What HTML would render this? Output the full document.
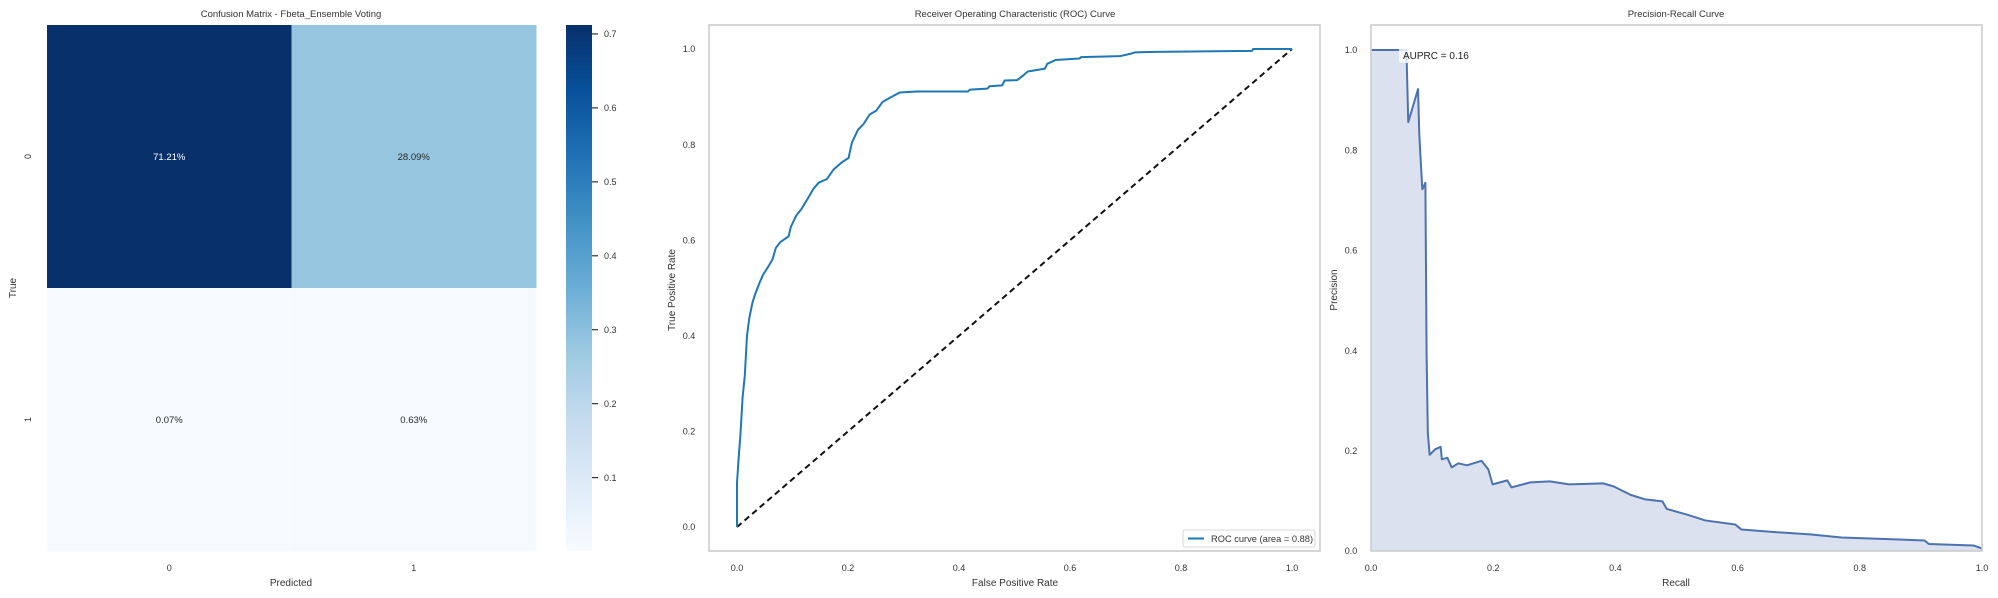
<!DOCTYPE html>
<html><head><meta charset="utf-8"><style>
html,body{margin:0;padding:0;background:#fff;}
svg{display:block;font-family:"Liberation Sans",Arial,sans-serif;}
</style></head><body>
<svg id="fig" width="1998" height="598" viewBox="0 0 1998 598">
<defs>
<linearGradient id="bluesGrad" x1="0" y1="1" x2="0" y2="0">
<stop offset="0" stop-color="#f7fbff"/><stop offset="0.125" stop-color="#deebf7"/><stop offset="0.25" stop-color="#c6dbef"/><stop offset="0.375" stop-color="#9ecae1"/><stop offset="0.5" stop-color="#6baed6"/><stop offset="0.625" stop-color="#4292c6"/><stop offset="0.75" stop-color="#2171b5"/><stop offset="0.875" stop-color="#08519c"/><stop offset="1" stop-color="#08306b"/>
</linearGradient>
</defs>
<g id="cm"></g>
<g id="roc"></g>
<g id="pr"></g>
</svg>
<script>
// ---- Confusion matrix data ----
const cmRowLabels = ["0","1"];
const cmColLabels = ["0","1"];
const cmValues = [[0.7121,0.2809],[0.0007,0.0063]];
const cmText = [["71.21%","28.09%"],["0.07%","0.63%"]];
const cbTicks = [0.1,0.2,0.3,0.4,0.5,0.6,0.7];
// ---- ROC data ----
const rocFpr = [0,0,0.003,0.006,0.01,0.014,0.018,0.022,0.028,0.033,0.041,0.047,0.056,0.064,0.07,0.078,0.093,0.097,0.107,0.116,0.128,0.138,0.147,0.162,0.174,0.19,0.201,0.207,0.218,0.228,0.239,0.251,0.262,0.274,0.293,0.324,0.416,0.42,0.451,0.455,0.478,0.482,0.505,0.516,0.524,0.555,0.559,0.574,0.617,0.62,0.69,0.709,0.717,0.755,0.928,0.93,1];
const rocTpr = [0,0.093,0.145,0.19,0.27,0.316,0.40,0.436,0.47,0.488,0.512,0.528,0.544,0.56,0.584,0.596,0.608,0.628,0.652,0.665,0.688,0.708,0.72,0.728,0.748,0.764,0.772,0.804,0.831,0.843,0.863,0.871,0.889,0.897,0.909,0.911,0.911,0.915,0.917,0.922,0.924,0.934,0.935,0.945,0.953,0.959,0.969,0.977,0.98,0.983,0.985,0.99,0.993,0.994,0.996,1.0,1];
const rocTicks = [0,0.2,0.4,0.6,0.8,1.0];
const rocLegend = "ROC curve (area = 0.88)";
// ---- PR data ----
const prRecall = [0,0.058,0.059,0.061,0.077,0.079,0.081,0.084,0.089,0.091,0.093,0.096,0.105,0.114,0.116,0.125,0.132,0.143,0.157,0.181,0.192,0.199,0.223,0.23,0.261,0.293,0.324,0.38,0.397,0.425,0.449,0.477,0.484,0.519,0.547,0.596,0.606,0.659,0.721,0.77,0.906,0.913,0.986,1];
const prPrecision = [1,1,0.951,0.856,0.922,0.833,0.787,0.722,0.735,0.392,0.236,0.192,0.203,0.208,0.183,0.186,0.167,0.175,0.171,0.18,0.163,0.133,0.141,0.127,0.137,0.139,0.133,0.135,0.129,0.112,0.103,0.099,0.084,0.072,0.061,0.053,0.043,0.038,0.033,0.027,0.021,0.014,0.011,0.005];
const prTicks = [0,0.2,0.4,0.6,0.8,1.0];
const auprcLabel = "AUPRC = 0.16";

const NS="http://www.w3.org/2000/svg";
function mk(parent,tag,attrs,text){const e=document.createElementNS(NS,tag);for(const k in attrs)e.setAttribute(k,attrs[k]);if(text!==undefined)e.textContent=text;parent.appendChild(e);return e;}
const TXT="#333";

// Blues colormap
const blues=["#f7fbff","#deebf7","#c6dbef","#9ecae1","#6baed6","#4292c6","#2171b5","#08519c","#08306b"];
function hex(h){return [parseInt(h.substr(1,2),16),parseInt(h.substr(3,2),16),parseInt(h.substr(5,2),16)];}
function bluesColor(t){t=Math.max(0,Math.min(1,t));const p=t*8;const i=Math.min(7,Math.floor(p));const f=p-i;const a=hex(blues[i]),b=hex(blues[i+1]);return "rgb("+a.map((v,k)=>Math.round(v+(b[k]-v)*f)).join(",")+")";}

// ===== Confusion matrix =====
(function(){
 const g=document.getElementById("cm");
 const L=47,R=536,T=25,B=551;
 const vmin=Math.min(...cmValues.flat()),vmax=Math.max(...cmValues.flat());
 const cw=(R-L)/cmColLabels.length, ch=(B-T)/cmRowLabels.length;
 cmValues.forEach((row,i)=>row.forEach((v,j)=>{
  const t=(v-vmin)/(vmax-vmin);
  const r=mk(g,"rect",{x:L+j*cw,y:T+i*ch,width:cw+0.5,height:ch+0.5,fill:bluesColor(t)});
  
  
  const tx=mk(g,"text",{x:L+(j+0.5)*cw,y:T+(i+0.5)*ch+3.5,"text-anchor":"middle","font-size":"9.5",fill:t>0.5?"#fff":"#262626"},cmText[i][j]);
  
  
 }));
 cmColLabels.forEach((c,j)=>{const e=mk(g,"text",{x:L+(j+0.5)*cw,y:571,"text-anchor":"middle","font-size":"9",fill:TXT},c);
  
  });
 cmRowLabels.forEach((c,i)=>{const y=T+(i+0.5)*ch;const e=mk(g,"text",{x:0,y:0,transform:"translate(31,"+y+") rotate(-90)","text-anchor":"middle","font-size":"9",fill:TXT},c);
  
  });
 let e=mk(g,"text",{x:291,y:17,"text-anchor":"middle","font-size":"9.5",fill:TXT},"Confusion Matrix - Fbeta_Ensemble Voting");
 
 
 e=mk(g,"text",{x:291,y:586,"text-anchor":"middle","font-size":"10",fill:TXT},"Predicted");
 
 
 e=mk(g,"text",{x:0,y:0,transform:"translate(16,288) rotate(-90)","text-anchor":"middle","font-size":"10",fill:TXT},"True");
 
 
 // colorbar
 const cL=566,cR=592;
 e=mk(g,"rect",{x:cL,y:T,width:cR-cL,height:B-T,fill:"url(#bluesGrad)"});
 
 
 const cy=v=>B-(v-vmin)/(vmax-vmin)*(B-T);
 cbTicks.forEach(v=>{
  mk(g,"line",{x1:cR,x2:cR+6,y1:cy(v),y2:cy(v),stroke:"#333","stroke-width":"1.2"});
  const t=mk(g,"text",{x:cR+12,y:cy(v)+3.2,"font-size":"9",fill:TXT},v.toFixed(1));
  
  
 });
})();

// ===== ROC =====
(function(){
 const g=document.getElementById("roc");
 const X0=737,X1=1292,Y0=527,Y1=49;
 const sx=v=>X0+v*(X1-X0), sy=v=>Y0-v*(Y0-Y1);
 let e=mk(g,"rect",{x:709,y:25,width:611,height:526,fill:"#fff",stroke:"#cccccc","stroke-width":"1.6"});
 
 
 e=mk(g,"line",{x1:sx(0),y1:sy(0),x2:sx(1),y2:sy(1),stroke:"#111","stroke-width":"2","stroke-dasharray":"6,4"});
 
 
 e=mk(g,"polyline",{points:rocFpr.map((x,i)=>sx(x)+","+sy(rocTpr[i])).join(" "),fill:"none",stroke:"#1f77b4","stroke-width":"2","stroke-linejoin":"round"});
 
 
 rocTicks.forEach(v=>{
  let t=mk(g,"text",{x:sx(v),y:571,"text-anchor":"middle","font-size":"9",fill:TXT},v.toFixed(1));
  
  
  t=mk(g,"text",{x:689,y:sy(v)+3.2,"text-anchor":"middle","font-size":"9",fill:TXT},v.toFixed(1));
  
  
 });
 e=mk(g,"text",{x:1015,y:17,"text-anchor":"middle","font-size":"9.5",fill:TXT},"Receiver Operating Characteristic (ROC) Curve");
 
 
 e=mk(g,"text",{x:1015,y:586,"text-anchor":"middle","font-size":"10",fill:TXT},"False Positive Rate");
 
 
 e=mk(g,"text",{x:0,y:0,transform:"translate(675,290) rotate(-90)","text-anchor":"middle","font-size":"10",fill:TXT},"True Positive Rate");
 
 
 const lg=mk(g,"g",{});
 
 
 mk(lg,"rect",{x:1183,y:530,width:132,height:17,rx:2,fill:"#fff",stroke:"#ccc","stroke-width":"0.8"});
 mk(lg,"line",{x1:1188,x2:1204,y1:538.5,y2:538.5,stroke:"#1f77b4","stroke-width":"2"});
 e=mk(lg,"text",{x:1211,y:542,"font-size":"9.3",fill:TXT},rocLegend);
 
 
})();

// ===== PR =====
(function(){
 const g=document.getElementById("pr");
 const X0=1371,X1=1982,Y0=551,Y1=50;
 const sx=v=>X0+v*(X1-X0), sy=v=>Y0-v*(Y0-Y1);
 let e=mk(g,"rect",{x:1371,y:25,width:611,height:526,fill:"#fff"});
 const pts=prRecall.map((x,i)=>sx(x)+","+sy(prPrecision[i]));
 e=mk(g,"polygon",{points:sx(prRecall[0])+","+sy(0)+" "+pts.join(" ")+" "+sx(prRecall[prRecall.length-1])+","+sy(0),fill:"#dbe1ee"});
 
 
 e=mk(g,"polyline",{points:pts.join(" "),fill:"none",stroke:"#4c72b0","stroke-width":"2","stroke-linejoin":"round"});
 
 
 e=mk(g,"rect",{x:1371,y:25,width:611,height:526,fill:"none",stroke:"#cccccc","stroke-width":"1.6"});
 
 
 prTicks.forEach(v=>{
  let t=mk(g,"text",{x:sx(v),y:571,"text-anchor":"middle","font-size":"9",fill:TXT},v.toFixed(1));
  
  
  t=mk(g,"text",{x:1351,y:sy(v)+3.2,"text-anchor":"middle","font-size":"9",fill:TXT},v.toFixed(1));
  
  
 });
 mk(g,"rect",{x:1399,y:47,width:70,height:16,rx:3,fill:"#fff","fill-opacity":"0.8"});
 e=mk(g,"text",{x:1403,y:59,"font-size":"10",fill:"#222"},auprcLabel);
 
 
 e=mk(g,"text",{x:1676,y:17,"text-anchor":"middle","font-size":"9.5",fill:TXT},"Precision-Recall Curve");
 
 
 e=mk(g,"text",{x:1676,y:586,"text-anchor":"middle","font-size":"10",fill:TXT},"Recall");
 
 
 e=mk(g,"text",{x:0,y:0,transform:"translate(1337,290) rotate(-90)","text-anchor":"middle","font-size":"10",fill:TXT},"Precision");
 
 
})();
</script>
</body></html>
